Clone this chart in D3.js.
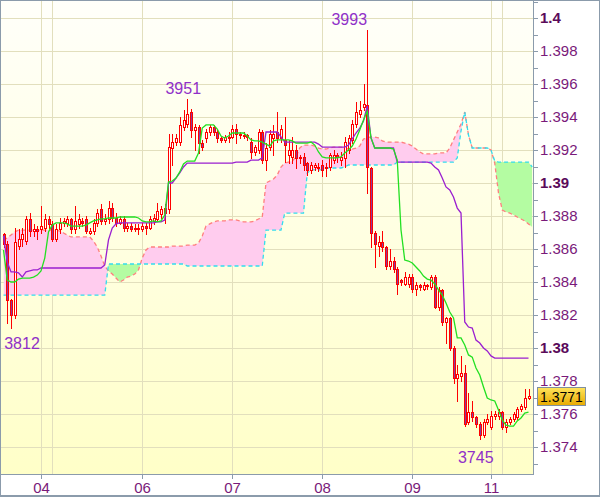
<!DOCTYPE html>
<html><head><meta charset="utf-8">
<script src="https://cdn.jsdelivr.net/npm/d3@7"></script>
<style>html,body{margin:0;padding:0;background:#fff;}svg{display:block;font-family:"Liberation Sans",Arial,sans-serif;}</style>
</head><body><svg id="c" width="600" height="497"></svg>
<script>
// ---------------- DATA ----------------
const openP = [
1.3869,1.3863,1.3829,1.3820,1.3862,1.3866,1.3865,1.3878,1.3871,1.3872,
1.3872,1.3873,1.3878,1.3875,1.3866,1.3872,1.3876,1.3876,1.3878,1.3872,
1.3875,1.3877,1.3878,1.3870,1.3871,1.3876,1.3884,1.3877,1.3878,1.3885,
1.3879,1.3876,1.3878,1.3873,1.3874,1.3872,1.3873,1.3872,1.3874,1.3873,
1.3877,1.3878,1.3881,1.3885,1.3884,1.3921,1.3925,1.3925,1.3934,1.3936,
1.3943,1.3932,1.3934,1.3924,1.3927,1.3931,1.3934,1.3931,1.3927,1.3926,
1.3928,1.3928,1.3933,1.3930,1.3929,1.3929,1.3925,1.3919,1.3920,1.3931,
1.3914,1.3922,1.3927,1.3931,1.3927,1.3926,1.3917,1.3916,1.3920,1.3916,
1.3916,1.3912,1.3908,1.3910,1.3910,1.3911,1.3909,1.3910,1.3914,1.3917,
1.3914,1.3915,1.3920,1.3926,1.3936,1.3942,1.3946,1.3947,1.3909,1.3870,
1.3862,1.3864,1.3861,1.3850,1.3853,1.3848,1.3841,1.3839,1.3839,1.3843,
1.3836,1.3838,1.3836,1.3838,1.3837,1.3843,1.3825,1.3835,1.3816,1.3818,
1.3800,1.3782,1.3783,1.3785,1.3755,1.3761,1.3758,1.3754,1.3747,1.3755,
1.3752,1.3759,1.3759,1.3761,1.3752,1.3755,1.3757,1.3758,1.3763,1.3764,
1.3770];
const highP = [
1.3870,1.3865,1.3830,1.3873,1.3872,1.3873,1.3880,1.3882,1.3875,1.3874,
1.3886,1.3881,1.3880,1.3877,1.3875,1.3879,1.3879,1.3880,1.3879,1.3886,
1.3881,1.3879,1.3880,1.3873,1.3878,1.3884,1.3887,1.3881,1.3889,1.3888,
1.3882,1.3880,1.3880,1.3876,1.3876,1.3875,1.3875,1.3876,1.3876,1.3880,
1.3881,1.3888,1.3886,1.3887,1.3930,1.3930,1.3930,1.3940,1.3944,1.3951,
1.3945,1.3936,1.3935,1.3926,1.3933,1.3935,1.3935,1.3932,1.3928,1.3929,
1.3931,1.3935,1.3936,1.3931,1.3931,1.3930,1.3927,1.3923,1.3933,1.3932,
1.3924,1.3932,1.3935,1.3943,1.3935,1.3940,1.3926,1.3928,1.3923,1.3917,
1.3918,1.3913,1.3913,1.3912,1.3912,1.3914,1.3912,1.3918,1.3920,1.3918,
1.3919,1.3928,1.3929,1.3938,1.3949,1.3950,1.3960,1.3993,1.3910,1.3871,
1.3868,1.3871,1.3862,1.3860,1.3855,1.3849,1.3842,1.3846,1.3845,1.3845,
1.3840,1.3839,1.3840,1.3839,1.3844,1.3844,1.3837,1.3836,1.3819,1.3819,
1.3801,1.3790,1.3795,1.3790,1.3773,1.3768,1.3759,1.3755,1.3757,1.3760,
1.3762,1.3762,1.3763,1.3762,1.3757,1.3758,1.3761,1.3764,1.3766,1.3775,
1.3775];
const lowP = [
1.3861,1.3815,1.3812,1.3818,1.3860,1.3862,1.3863,1.3868,1.3868,1.3866,
1.3870,1.3871,1.3873,1.3865,1.3865,1.3870,1.3874,1.3874,1.3870,1.3870,
1.3873,1.3874,1.3870,1.3869,1.3869,1.3874,1.3875,1.3875,1.3876,1.3877,
1.3874,1.3875,1.3871,1.3871,1.3871,1.3871,1.3869,1.3871,1.3869,1.3872,
1.3875,1.3877,1.3879,1.3876,1.3882,1.3911,1.3923,1.3923,1.3932,1.3934,
1.3928,1.3920,1.3918,1.3920,1.3925,1.3929,1.3929,1.3925,1.3925,1.3925,
1.3925,1.3927,1.3924,1.3927,1.3927,1.3926,1.3915,1.3917,1.3918,1.3912,
1.3908,1.3920,1.3917,1.3925,1.3925,1.3913,1.3912,1.3912,1.3909,1.3912,
1.3908,1.3905,1.3906,1.3908,1.3907,1.3904,1.3904,1.3908,1.3912,1.3913,
1.3911,1.3910,1.3918,1.3924,1.3934,1.3940,1.3944,1.3894,1.3861,1.3849,
1.3856,1.3859,1.3848,1.3848,1.3846,1.3833,1.3838,1.3838,1.3837,1.3834,
1.3832,1.3835,1.3835,1.3836,1.3836,1.3824,1.3823,1.3814,1.3803,1.3799,
1.3779,1.3768,1.3780,1.3753,1.3754,1.3756,1.3752,1.3745,1.3746,1.3754,
1.3751,1.3757,1.3757,1.3751,1.3749,1.3754,1.3756,1.3757,1.3762,1.3763,
1.3769];
const closeP = [
1.3863,1.3829,1.3820,1.3864,1.3866,1.3869,1.3878,1.3871,1.3872,1.3871,
1.3874,1.3878,1.3875,1.3866,1.3872,1.3876,1.3877,1.3878,1.3872,1.3877,
1.3878,1.3876,1.3871,1.3871,1.3876,1.3882,1.3877,1.3878,1.3885,1.3879,
1.3876,1.3878,1.3873,1.3874,1.3872,1.3873,1.3872,1.3874,1.3873,1.3878,
1.3879,1.3883,1.3884,1.3882,1.3922,1.3925,1.3927,1.3935,1.3938,1.3942,
1.3932,1.3934,1.3924,1.3922,1.3931,1.3934,1.3931,1.3927,1.3926,1.3928,
1.3927,1.3933,1.3930,1.3929,1.3929,1.3928,1.3919,1.3922,1.3931,1.3914,
1.3921,1.3930,1.3930,1.3927,1.3933,1.3923,1.3920,1.3920,1.3915,1.3915,
1.3911,1.3908,1.3911,1.3911,1.3909,1.3908,1.3910,1.3917,1.3917,1.3916,
1.3916,1.3925,1.3927,1.3936,1.3943,1.3944,1.3948,1.3910,1.3870,1.3863,
1.3864,1.3861,1.3850,1.3853,1.3848,1.3839,1.3840,1.3843,1.3843,1.3836,
1.3838,1.3837,1.3838,1.3838,1.3843,1.3825,1.3835,1.3816,1.3818,1.3800,
1.3782,1.3784,1.3785,1.3754,1.3761,1.3758,1.3754,1.3747,1.3755,1.3757,
1.3759,1.3760,1.3761,1.3752,1.3755,1.3757,1.3760,1.3763,1.3765,1.3770,
1.3771];
const tenkan = [
1.38594,1.38412,1.38400,1.38400,1.38418,1.38424,1.38424,1.38424,1.38430,1.38442,
1.38467,1.38545,1.38703,1.38745,1.38758,1.38758,1.38758,1.38752,1.38739,1.38739,
1.38739,1.38739,1.38745,1.38758,1.38770,1.38776,1.38782,1.38782,1.38788,1.38788,
1.38788,1.38794,1.38794,1.38794,1.38794,1.38794,1.38788,1.38770,1.38764,1.38764,
1.38770,1.38764,1.38770,1.38806,1.39006,1.39012,1.39030,1.39067,1.39115,1.39133,
1.39133,1.39133,1.39182,1.39333,1.39352,1.39352,1.39352,1.39327,1.39285,1.39273,
1.39285,1.39303,1.39303,1.39303,1.39303,1.39285,1.39261,1.39255,1.39255,1.39248,
1.39236,1.39224,1.39255,1.39261,1.39261,1.39261,1.39261,1.39255,1.39242,1.39242,
1.39242,1.39242,1.39248,1.39230,1.39188,1.39158,1.39152,1.39152,1.39152,1.39152,
1.39158,1.39182,1.39200,1.39224,1.39267,1.39321,1.39382,1.39436,1.39273,1.39212,
1.39212,1.39212,1.39212,1.39212,1.39206,1.39139,1.38715,1.38533,1.38527,1.38515,
1.38491,1.38467,1.38436,1.38418,1.38412,1.38388,1.38352,1.38321,1.38273,1.38218,
1.38182,1.38061,1.38061,1.38018,1.37958,1.37945,1.37879,1.37836,1.37764,1.37697,
1.37685,1.37679,1.37624,1.37564,1.37533,1.37527,1.37527,1.37558,1.37576,1.37606,
1.37612];
const kijun = [
1.38679,1.38521,1.38461,1.38461,1.38455,1.38430,1.38461,1.38467,1.38473,1.38473,
1.38485,1.38485,1.38485,1.38485,1.38485,1.38485,1.38485,1.38485,1.38485,1.38485,
1.38485,1.38485,1.38485,1.38485,1.38485,1.38485,1.38485,1.38503,1.38655,1.38727,
1.38752,1.38758,1.38758,1.38758,1.38758,1.38758,1.38758,1.38758,1.38758,1.38758,
1.38758,1.38764,1.38764,1.38776,1.39000,1.39000,1.39030,1.39061,1.39097,1.39121,
1.39121,1.39121,1.39121,1.39121,1.39121,1.39121,1.39121,1.39121,1.39121,1.39121,
1.39121,1.39121,1.39127,1.39127,1.39127,1.39127,1.39139,1.39139,1.39139,1.39152,
1.39309,1.39309,1.39309,1.39309,1.39279,1.39248,1.39248,1.39248,1.39248,1.39248,
1.39248,1.39248,1.39248,1.39248,1.39236,1.39218,1.39218,1.39218,1.39218,1.39218,
1.39218,1.39218,1.39230,1.39267,1.39303,1.39333,1.39376,1.39467,1.39273,1.39212,
1.39212,1.39212,1.39212,1.39212,1.39212,1.39127,1.39127,1.39127,1.39127,1.39127,
1.39127,1.39127,1.39127,1.39127,1.39121,1.39097,1.39079,1.39030,1.38976,1.38958,
1.38915,1.38848,1.38818,1.38158,1.38127,1.38121,1.38048,1.38030,1.38000,1.37982,
1.37952,1.37939,1.37939,1.37939,1.37939,1.37939,1.37939,1.37939,1.37939,1.37939,
1.37939];
const senkouA = [
1.38655,1.38667,1.38685,1.38703,1.38715,1.38715,1.38715,1.38715,1.38715,1.38715,
1.38715,1.38715,1.38715,1.38715,1.38715,1.38709,1.38697,1.38685,1.38673,1.38673,
1.38673,1.38673,1.38673,1.38673,1.38648,1.38612,1.38558,1.38497,1.38467,1.38448,
1.38424,1.38400,1.38412,1.38430,1.38436,1.38448,1.38473,1.38545,1.38594,1.38612,
1.38612,1.38612,1.38612,1.38612,1.38612,1.38618,1.38618,1.38618,1.38618,1.38624,
1.38624,1.38624,1.38636,1.38679,1.38739,1.38752,1.38764,1.38770,1.38770,1.38770,
1.38776,1.38776,1.38776,1.38770,1.38764,1.38764,1.38764,1.38770,1.38782,1.38794,
1.39000,1.39012,1.39024,1.39048,1.39097,1.39121,1.39127,1.39133,1.39158,1.39212,
1.39230,1.39230,1.39230,1.39224,1.39212,1.39206,1.39206,1.39212,1.39218,1.39218,
1.39218,1.39212,1.39206,1.39206,1.39212,1.39224,1.39267,1.39273,1.39279,1.39279,
1.39273,1.39255,1.39248,1.39248,1.39248,1.39248,1.39248,1.39242,1.39236,1.39224,
1.39206,1.39188,1.39176,1.39176,1.39176,1.39176,1.39182,1.39182,1.39182,1.39212,
1.39261,1.39309,1.39358,1.39430,1.39291,1.39212,1.39212,1.39212,1.39212,1.39212,
1.39200,1.39121,1.38939,1.38836,1.38824,1.38818,1.38806,1.38794,1.38782,1.38770,
1.38752,1.38733];
const senkouB = [
1.38321,1.38321,1.38321,1.38321,1.38321,1.38321,1.38321,1.38321,1.38321,1.38321,
1.38321,1.38321,1.38321,1.38321,1.38321,1.38321,1.38321,1.38321,1.38321,1.38321,
1.38321,1.38321,1.38321,1.38321,1.38321,1.38321,1.38321,1.38321,1.38509,1.38509,
1.38509,1.38509,1.38509,1.38509,1.38509,1.38509,1.38509,1.38509,1.38509,1.38509,
1.38509,1.38509,1.38509,1.38509,1.38509,1.38509,1.38509,1.38509,1.38509,1.38497,
1.38497,1.38497,1.38497,1.38497,1.38497,1.38497,1.38497,1.38497,1.38497,1.38497,
1.38497,1.38497,1.38497,1.38497,1.38497,1.38497,1.38497,1.38497,1.38497,1.38497,
1.38715,1.38715,1.38715,1.38715,1.38715,1.38818,1.38818,1.38818,1.38818,1.38818,
1.38818,1.39061,1.39079,1.39079,1.39079,1.39079,1.39091,1.39091,1.39091,1.39091,
1.39091,1.39097,1.39109,1.39109,1.39109,1.39109,1.39109,1.39109,1.39109,1.39109,
1.39109,1.39109,1.39109,1.39109,1.39109,1.39127,1.39127,1.39127,1.39127,1.39127,
1.39127,1.39127,1.39127,1.39127,1.39127,1.39127,1.39127,1.39127,1.39127,1.39127,
1.39127,1.39152,1.39315,1.39430,1.39291,1.39212,1.39212,1.39212,1.39212,1.39212,
1.39200,1.39133,1.39127,1.39127,1.39127,1.39127,1.39127,1.39127,1.39127,1.39127,
1.39127,1.39097];
const dayTickIndex = [10, 37, 61, 85, 109, 130];
const dayTickLabels = ["04", "06", "07", "08", "09", "11"];
const extraGridIndex = [13, 133];
const priceTickLabels = ["1.374","1.376","1.378","1.38","1.382","1.384","1.386","1.388","1.39","1.392","1.394","1.396","1.398","1.4"];
const extremeIndex = [2, 49, 97, 127];
const extremeLabels = ["3812", "3951", "3993", "3745"];
const extremeKind = ["low", "high", "high", "low"];
const lastPrice = 1.3771;

// ---------------- LAYOUT / STYLE ----------------
const W = 600, H = 497, plotR = 533, plotB = 474;
const extremeDx = [11, -4, -18, -4];
const extremeDy = [21, -5, -5, 24];
const svg = d3.select("#c");
const xs = d3.scaleLinear().domain([0, 140]).range([3.5, 528.5]);
const ys = d3.scaleLinear().domain([1.372364, 1.401091]).range([plotB, 0]);

const defs = svg.append("defs");
const bg = defs.append("linearGradient").attr("id","bg").attr("x1",0).attr("y1",0).attr("x2",0).attr("y2",1);
bg.append("stop").attr("offset","0%").attr("stop-color","#fffffa");
bg.append("stop").attr("offset","100%").attr("stop-color","#ffffc8");
const gold = defs.append("linearGradient").attr("id","gold").attr("x1",0).attr("y1",0).attr("x2",0).attr("y2",1);
gold.append("stop").attr("offset","0%").attr("stop-color","#ffe45c");
gold.append("stop").attr("offset","100%").attr("stop-color","#e8aa00");
defs.append("clipPath").attr("id","plotClip").append("rect").attr("x",1).attr("y",1).attr("width",plotR-1).attr("height",plotB-1);

const idxA = d3.range(senkouA.length);
defs.append("clipPath").attr("id","aboveB").append("path")
  .attr("d", d3.area().x(i=>xs(i)).y0(0).y1(i=>ys(senkouB[i]))(idxA));
defs.append("clipPath").attr("id","belowB").append("path")
  .attr("d", d3.area().x(i=>xs(i)).y0(i=>ys(senkouB[i])).y1(plotB)(idxA));

svg.append("rect").attr("width",W).attr("height",H).attr("fill","#fff");
svg.append("rect").attr("x",1).attr("y",1).attr("width",plotR-1).attr("height",plotB-1).attr("fill","url(#bg)");

const plot = svg.append("g").attr("clip-path","url(#plotClip)");
const gridColor = "#e2dfbd";
priceTickLabels.forEach(t => {
  const y = Math.round(ys(+t)) + 0.5;
  plot.append("line").attr("x1",0).attr("x2",plotR).attr("y1",y).attr("y2",y).attr("stroke",gridColor);
});
dayTickIndex.concat(extraGridIndex).forEach(i => {
  const x = Math.round(xs(i)) + 0.5;
  plot.append("line").attr("x1",x).attr("x2",x).attr("y1",0).attr("y2",plotB).attr("stroke",gridColor);
});

// cloud
const cloudArea = d3.area().x(i=>xs(i)).y0(i=>ys(senkouB[i])).y1(i=>ys(senkouA[i]));
plot.append("g").attr("clip-path","url(#aboveB)").append("path").attr("d",cloudArea(idxA)).attr("fill","#ffccee");
plot.append("g").attr("clip-path","url(#belowB)").append("path").attr("d",cloudArea(idxA)).attr("fill","#b4fca2");
plot.append("path").attr("d", d3.line().x(i=>xs(i)).y(i=>ys(senkouA[i]))(idxA))
  .attr("fill","none").attr("stroke","#ff7f7f").attr("stroke-width",1.3).attr("stroke-dasharray","4,3");
plot.append("path").attr("d", d3.line().x(i=>xs(i)).y(i=>ys(senkouB[i]))(idxA))
  .attr("fill","none").attr("stroke","#33dcee").attr("stroke-width",1.3).attr("stroke-dasharray","4,3");

// candles
const cg = plot.append("g");
openP.forEach((o, i) => {
  const c = closeP[i];
  const px = Math.round(xs(i));
  cg.append("line").attr("x1",px+0.5).attr("x2",px+0.5)
    .attr("y1",Math.round(ys(highP[i]))).attr("y2",Math.round(ys(lowP[i]))+1)
    .attr("stroke","#ff0000").attr("stroke-width",1);
  const top = Math.round(ys(Math.max(o,c))), bot = Math.round(ys(Math.min(o,c)));
  cg.append("rect").attr("x",px-0.5).attr("y",top+0.5).attr("width",2).attr("height",Math.max(1,bot-top))
    .attr("fill", c >= o ? "#ffffff" : "#8c3a9c").attr("stroke","#ff0000").attr("stroke-width",1);
});

// tenkan / kijun
const idxL = d3.range(tenkan.length);
plot.append("path").attr("d", d3.line().x(i=>xs(i)).y(i=>ys(kijun[i]))(idxL))
  .attr("fill","none").attr("stroke","#9a1fd0").attr("stroke-width",1.3);
plot.append("path").attr("d", d3.line().x(i=>xs(i)).y(i=>ys(tenkan[i]))(idxL))
  .attr("fill","none").attr("stroke","#22e022").attr("stroke-width",1.3);

// extremes labels
extremeIndex.forEach((i, k) => {
  const v = extremeKind[k] === "high" ? highP[i] : lowP[i];
  svg.append("text").attr("x", xs(i) + extremeDx[k]).attr("y", ys(v) + extremeDy[k])
    .attr("text-anchor","middle").attr("font-size",16).attr("fill","#9030c8").text(extremeLabels[k]);
});

// axes
const axisColor = "#8b9bab";
svg.append("line").attr("x1",plotR+0.5).attr("x2",plotR+0.5).attr("y1",0).attr("y2",plotB+1).attr("stroke",axisColor);
svg.append("line").attr("x1",0).attr("x2",plotR+1).attr("y1",plotB+0.5).attr("y2",plotB+0.5).attr("stroke",axisColor);
d3.range(1373, 1402).forEach(k => {
  const y = Math.round(ys(k/1000)) + 0.5;
  svg.append("line").attr("x1",plotR).attr("x2",plotR+5).attr("y1",y).attr("y2",y).attr("stroke",axisColor);
});
priceTickLabels.forEach(t => {
  const bold = t.length <= 4;
  svg.append("text").attr("x",540).attr("y",ys(+t)).attr("dy","0.34em")
    .attr("font-size",15).attr("font-weight", bold ? "bold" : "normal")
    .attr("fill", bold ? "#5a0a5a" : "#7a1a7a").text(t);
});
dayTickIndex.forEach((i, k) => {
  const x = Math.round(xs(i)) + 0.5;
  svg.append("line").attr("x1",x).attr("x2",x).attr("y1",plotB).attr("y2",plotB+5).attr("stroke",axisColor);
  svg.append("text").attr("x",x).attr("y",493).attr("text-anchor","middle")
    .attr("font-size",15).attr("fill","#7a1a7a").text(dayTickLabels[k]);
});

// last price box
const ly = ys(lastPrice);
svg.append("rect").attr("x",537.5).attr("y",Math.round(ly)-8.5).attr("width",48).attr("height",18)
  .attr("fill","url(#gold)").attr("stroke","#7f8f9f");
svg.append("text").attr("x",540).attr("y",ly+1).attr("dy","0.36em").attr("font-size",14).attr("fill","#000").text(lastPrice.toFixed(4));

// outer border
svg.append("rect").attr("x",0.5).attr("y",0.5).attr("width",W-1).attr("height",H-1).attr("fill","none").attr("stroke",axisColor);
svg.append("line").attr("x1",0).attr("x2",W).attr("y1",H-1.5).attr("y2",H-1.5).attr("stroke",axisColor);
</script></body></html>
